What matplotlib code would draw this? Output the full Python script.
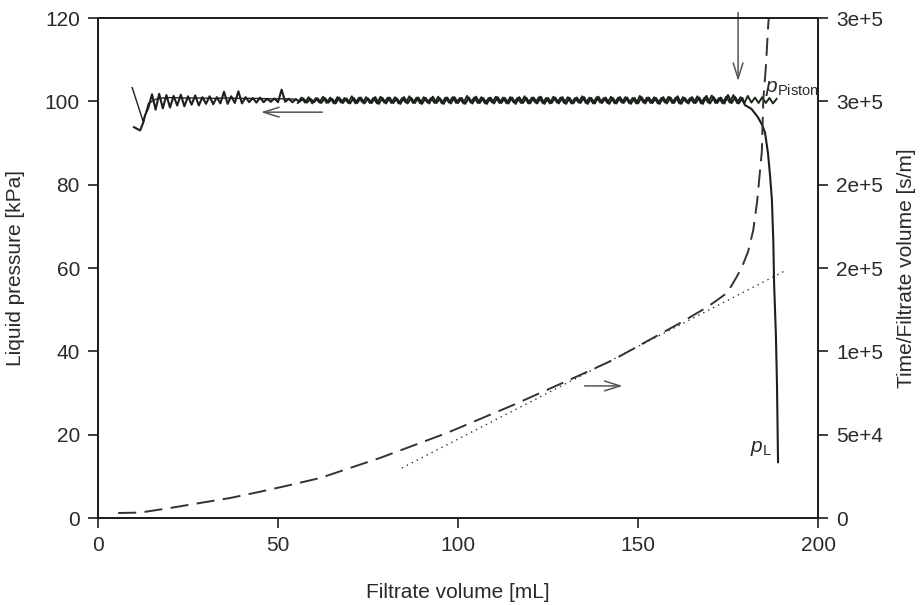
import numpy as np
import matplotlib
matplotlib.use("Agg")
import matplotlib.pyplot as plt

plt.rcParams['font.family'] = ['Liberation Sans', 'DejaVu Sans']
plt.rcParams['mathtext.fontset'] = 'custom'
plt.rcParams['mathtext.it'] = 'Liberation Sans:italic'
plt.rcParams['mathtext.rm'] = 'Liberation Sans'
plt.rcParams['lines.scale_dashes'] = False

# ---- data ----
# piston pressure (left axis, kPa): early smooth part
piston_x = [9.5, 12.6, 14.0, 16.0, 18.0, 20.0, 24.0, 28.0, 32.0, 36.0, 40.0, 44.0, 48.0,
            52.0, 55.0]
piston_p = [103.3, 95.0, 99.5, 100.5, 100.8, 100.9, 100.8, 100.8, 100.7, 100.8, 100.7, 100.7, 100.6,
            100.6, 100.5]
# piston pressure: noisy plateau
piston_noise_x = list(np.arange(55.5, 189.0, 1.0))
piston_noise_p = [99.6, 100.9, 99.7, 101.0, 99.5, 100.8, 99.7, 101.1, 99.6, 100.9,
                  99.5, 101.0, 99.7, 100.8, 99.6, 101.2, 99.5, 100.9, 99.7, 101.0,
                  99.6, 100.8, 99.5, 101.1, 99.7, 100.9, 99.6, 101.0, 99.5, 100.8,
                  99.7, 101.2, 99.6, 100.9, 99.5, 101.0, 99.7, 100.8, 99.6, 101.1,
                  99.5, 100.9, 99.7, 101.0, 99.6, 100.8, 99.5, 101.3, 99.7, 100.9,
                  99.6, 101.0, 99.5, 100.8, 99.7, 101.1, 99.6, 100.9, 99.5, 101.0,
                  99.7, 100.8, 99.6, 101.2, 99.5, 100.9, 99.7, 101.0, 99.6, 100.8,
                  99.5, 101.1, 99.7, 100.9, 99.6, 101.0, 99.5, 100.8, 99.7, 101.2,
                  99.6, 100.9, 99.5, 101.0, 99.7, 100.8, 99.6, 101.1, 99.5, 100.9,
                  99.7, 101.0, 99.6, 100.8, 99.5, 101.3, 99.7, 100.9, 99.6, 101.0,
                  99.5, 100.8, 99.7, 101.1, 99.6, 100.9, 99.5, 101.0, 99.7, 100.8,
                  99.6, 101.2, 99.5, 100.9, 99.7, 101.4, 99.6, 100.8, 99.5, 101.1,
                  99.7, 101.5, 99.6, 101.0, 99.5, 101.3, 99.7, 100.9, 99.6, 101.0,
                  99.6, 100.8, 99.5, 100.6]

# liquid pressure p_L (left axis, kPa)
pl_start_x = [10.0, 11.7, 12.6]
pl_start_p = [93.8, 93.0, 95.0]
pl_noise_x = list(np.arange(13.0, 180.0, 1.0))
pl_noise_p = [96.5, 98.5, 101.7, 98.0, 101.8, 98.3, 101.5, 98.5,
              101.3, 99.0, 101.6, 98.8, 101.2, 99.2, 101.4, 99.0, 101.0, 99.4,
              101.2, 99.3, 101.0, 99.5, 102.3, 99.4, 101.2, 99.6, 102.4, 99.5,
              101.0, 99.8, 100.8, 99.7, 100.9, 99.8, 100.6, 99.9, 100.7, 99.8,
              102.8, 99.9, 100.6, 99.8, 100.5, 99.9, 100.7, 99.7, 100.6, 99.8,
              100.7, 99.6, 100.8, 99.7, 100.6, 99.5, 100.9, 99.6, 100.7, 99.5,
              100.8, 99.6, 100.9, 99.5, 100.7, 99.6, 101.0, 99.4, 100.8, 99.5,
              100.9, 99.6, 100.7, 99.4, 101.0, 99.5, 100.8, 99.6, 100.9, 99.4,
              100.8, 99.5, 101.1, 99.6, 100.7, 99.4, 100.9, 99.5, 101.0, 99.6,
              100.8, 99.4, 100.9, 99.5, 101.1, 99.6, 100.8, 99.4, 100.9, 99.5,
              101.0, 99.6, 100.8, 99.5, 100.9, 99.4, 101.0, 99.6, 100.8, 99.5,
              100.9, 99.5, 101.1, 99.4, 100.8, 99.6, 100.9, 99.5, 101.0, 99.4,
              100.8, 99.5, 100.9, 99.6, 101.0, 99.4, 100.8, 99.5, 101.1, 99.6,
              100.9, 99.4, 100.8, 99.5, 101.0, 99.6, 100.9, 99.4, 100.8, 99.5,
              101.0, 99.5, 100.9, 99.6, 100.8, 99.4, 101.0, 99.5, 100.9, 99.6,
              101.2, 99.4, 100.8, 99.5, 101.0, 99.6, 100.9, 99.4, 101.3, 99.5,
              101.0, 99.6, 100.9, 99.5, 101.5, 99.6, 101.0, 99.5, 100.8]
pl_drop_x = [179.7, 181.5, 183.3, 184.5, 185.3, 186.1, 186.7, 187.2, 187.6, 187.8, 188.3, 188.6, 188.9]
pl_drop_p = [99.1, 98.2, 96.2, 94.3, 92.4, 87.6, 82.0, 76.3, 66.0, 56.4, 44.0, 32.4, 13.4]

# time / filtrate volume (right axis, s/m)
tv_x = [5.6, 11.7, 20.0, 28.3, 36.7, 45.0, 53.3, 61.7, 78.3, 96.9, 115.3, 133.9, 143.0,
        161.7, 169.2, 171.5, 174.7, 176.0, 177.5, 179.0, 180.6, 182.0, 183.1, 184.4,
        184.8, 185.5, 186.2, 186.6]
tv_y = [3000, 3250, 6000, 9000, 12000, 15750, 19750, 24000, 36000, 51000, 67750, 85750, 94750,
        117000, 126500, 130000, 135000, 139500, 145000, 151250, 160000, 172500, 190000, 220000,
        250750, 270000, 296750, 307500]
# linear fit (dotted)
fit_x = [84.4, 190.8]
fit_y = [30000, 148250]

x_ticks = [0, 50, 100, 150, 200]
left_ticks = [0, 20, 40, 60, 80, 100, 120]
right_ticks = [0, 50000, 100000, 150000, 200000, 250000, 300000]
right_labels = ['0', '5e+4', '1e+5', '2e+5', '2e+5', '3e+5', '3e+5']

# ---- plot ----
fig = plt.figure(figsize=(9.23, 6.05), dpi=100)
ax = fig.add_axes([98/923, 87/605, 720/923, 500/605])
ax2 = ax.twinx()

line_c = '#1e1e1e'
txt_c = '#2a2a2a'

ax.plot(piston_x, piston_p, color=line_c, lw=1.0)
ax.plot(piston_noise_x, piston_noise_p, color='#1a2a1a', lw=1.4)
ax.plot(pl_start_x + pl_noise_x + pl_drop_x, pl_start_p + pl_noise_p + pl_drop_p,
        color=line_c, lw=1.5)

ax2.plot(tv_x, tv_y, color='#333333', lw=1.4, linestyle=(0, (13, 6)))
ax2.plot(fit_x, fit_y, color='#333333', lw=1.0, linestyle=(0, (1, 3)))

ax.set_xlim(0, 200)
ax.set_ylim(0, 120)
ax2.set_ylim(0, 300000)

ax.set_xticks(x_ticks)
ax.set_yticks(left_ticks)
ax2.set_yticks(right_ticks)
ax2.set_yticklabels(right_labels)

for a in (ax, ax2):
    for s in a.spines.values():
        s.set_linewidth(1.3)
        s.set_color(line_c)
    a.tick_params(direction='out', length=7, width=1.2, colors=line_c,
                  labelsize=15, labelcolor=txt_c, pad=6)

ax.set_xlabel('Filtrate volume [mL]', fontsize=15, color=txt_c, labelpad=20)
ax.set_ylabel('Liquid pressure [kPa]', fontsize=15, color=txt_c, labelpad=14)
ax2.set_ylabel('Time/Filtrate volume [s/m]', fontsize=15, color=txt_c, labelpad=10)

arrow_kw = dict(arrowstyle='->,head_length=0.7,head_width=0.22', color='#555555', lw=1.1,
                mutation_scale=16)
ax.annotate('', xy=(44.5, 97.4), xytext=(63.1, 97.4), arrowprops=arrow_kw)
ax.annotate('', xy=(146.5, 31.7), xytext=(134.4, 31.7), arrowprops=arrow_kw)
ax.annotate('', xy=(177.8, 104.2), xytext=(177.8, 122.0), arrowprops=arrow_kw,
            annotation_clip=False)

ax.text(185.3, 102.3, r'$p_{\mathrm{Piston}}$', fontsize=15, color=txt_c,
        ha='left', va='baseline')
ax.text(181.0, 15.8, r'$p_{\mathrm{L}}$', fontsize=15, color=txt_c,
        ha='left', va='baseline')

fig.savefig('out.png', dpi=100)
